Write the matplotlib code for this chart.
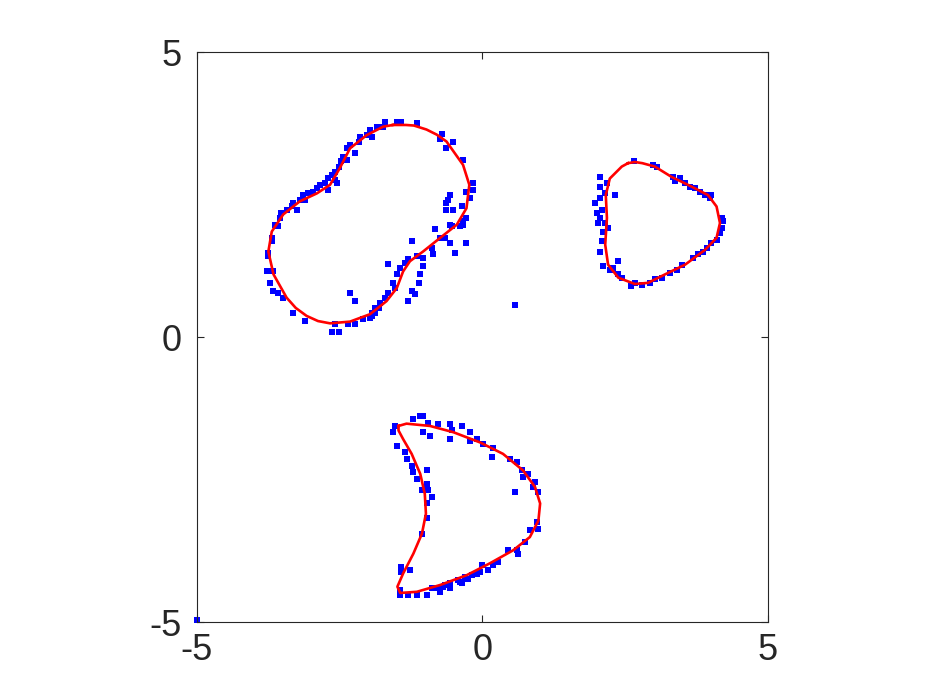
import matplotlib.pyplot as plt
import numpy as np

# --------------------------------------------------------------------------------
# red boundary curves (x, y)

blob_x = [-1.57, -1.34, -1.20, -0.98, -0.80, -0.63, -0.34, -0.23, -0.28, -0.45,
          -0.74, -1.04, -1.27, -1.39, -1.50, -1.68, -1.97, -2.32, -2.67, -2.88,
          -3.08, -3.27, -3.43, -3.66, -3.75, -3.69, -3.49, -3.20, -2.90, -2.67,
          -2.50, -2.32, -2.03, -1.74]
blob_y = [3.72, 3.72, 3.71, 3.64, 3.55, 3.43, 3.02, 2.67, 2.26, 1.97,
          1.74, 1.50, 1.33, 1.15, 0.86, 0.63, 0.40, 0.27, 0.24, 0.28,
          0.37, 0.51, 0.69, 1.10, 1.50, 1.85, 2.15, 2.38, 2.52, 2.67,
          2.96, 3.31, 3.54, 3.69]

tri_x = [2.55, 2.67, 2.80, 3.02, 3.31, 3.66, 3.95, 4.10, 4.16, 4.10, 3.90,
         3.55, 3.20, 2.90, 2.67, 2.38, 2.20, 2.15, 2.18, 2.16, 2.23, 2.44]
tri_y = [3.05, 3.07, 3.05, 2.99, 2.81, 2.64, 2.49, 2.29, 2.00, 1.74, 1.53,
         1.27, 1.10, 0.95, 0.93, 1.04, 1.27, 1.62, 2.09, 2.49, 2.78, 2.99]

moon_x = [-1.47, -1.33, -0.92, -0.51, -0.04, 0.36, 0.71, 0.92, 1.01, 0.98,
          0.83, 0.54, 0.13, -0.28, -0.74, -1.15, -1.44, -1.49, -1.39, -1.21,
          -1.06, -0.99, -1.01, -1.09, -1.24, -1.39, -1.47]
moon_y = [-1.56, -1.52, -1.56, -1.67, -1.85, -2.05, -2.34, -2.63, -2.92, -3.22,
          -3.51, -3.74, -3.97, -4.18, -4.35, -4.47, -4.49, -4.38, -4.15, -3.80,
          -3.45, -3.10, -2.75, -2.40, -2.05, -1.79, -1.64]

# --------------------------------------------------------------------------------
# blue sample points

pts_x = [
    # upper-left blob
    -1.85, -1.97, -2.03, -2.15, -2.17, -2.32, -2.38, -2.23, -2.44, -2.47, -2.38,
    -2.52, -2.58, -2.64, -2.70, -2.58, -2.55, -2.76, -2.85, -2.90, -2.70, -2.96,
    -3.05, -3.14, -3.11, -3.20, -3.31, -3.34, -3.25, -3.43, -3.52, -3.55, -3.63,
    -3.58, -1.74, -1.71, -1.50, -1.42, -1.15, -1.94, -0.71, -0.74, -0.51, -0.63,
    -0.34, -0.16, -0.16, -0.28, -0.57, -0.60, -0.63, -0.22, -0.36, -0.63, -0.51,
    -0.28, -0.34, -0.54, -0.83, -0.39, -3.69, -3.69, -3.75, -3.75, -3.78, -3.66,
    -3.72, -3.66, -3.58, -3.49, -3.31, -3.11, -2.32, -2.23, -2.64, -2.52, -2.58,
    -2.35, -2.23, -2.09, -1.97, -1.88, -1.82, -0.57, -0.34, -0.74, -0.65, -0.57,
    -0.28, -1.24, -0.89, -0.86, -0.48, -1.04, -1.15, -1.30, -1.36, -1.04, -1.65,
    -1.44, -1.50, -1.09, -1.12, -1.56, -1.53, -1.24, -1.18, -1.65, -1.71, -1.30,
    -1.80, -1.88, -1.94, -1.94,
    # right triangle
    2.66, 2.99, 3.05, 3.34, 3.37, 3.46, 3.55, 3.63, 3.72, 3.81, 3.90, 3.98, 4.01,
    4.19, 4.22, 4.19, 4.16, 4.10, 4.01, 3.93, 3.87, 3.78, 3.69, 3.49, 3.40, 3.28,
    3.14, 3.02, 2.93, 2.79, 2.67, 2.61, 2.44, 2.38, 2.29, 2.38, 2.23, 2.12, 2.06,
    2.09, 2.12, 2.03, 2.15, 2.20, 2.06, 2.00, 2.09, 1.97, 2.06, 2.15, 2.06, 2.06,
    2.18, 2.32,
    # lower crescent
    -1.09, -1.04, -1.21, -0.95, -0.77, -0.57, -0.36, -0.54, -0.22, -1.04, -0.92,
    -0.57, -0.10, -1.53, -1.56, -1.50, -1.36, -1.33, -1.24, -1.21, -1.15, -0.98,
    -0.98, -0.95, -0.89, -1.06, -0.22, 0.01, 0.19, 0.16, 0.48, 0.60, 0.69, 0.80,
    0.71, 0.92, 0.89, 0.98, 0.57, 0.95, 0.98, 0.83, 0.74, 0.60, 0.45, 0.63, 0.28,
    0.19, -0.01, 0.10, -0.04, -0.19, -0.31, -0.42, -0.36, -0.57, -0.69, -0.74,
    -0.98, -0.98, -1.06, -1.42, -1.27, -1.42, -1.44, -1.44, -1.30, -1.15, -0.98,
    -0.89, -0.77, -0.66, -0.57, -0.39, -0.25, -0.10,
    # strays
    0.57, -5.0,
]
pts_y = [
    # upper-left blob
    3.69, 3.63, 3.54, 3.51, 3.43, 3.37, 3.31, 3.22, 3.16, 3.08, 3.11,
    2.99, 2.90, 2.84, 2.79, 2.76, 2.70, 2.70, 2.67, 2.61, 2.58, 2.55,
    2.52, 2.49, 2.41, 2.41, 2.35, 2.29, 2.23, 2.23, 2.17, 2.09, 1.97,
    1.94, 3.69, 3.78, 3.78, 3.78, 3.75, 3.51, 3.57, 3.48, 3.43, 3.31,
    3.11, 2.70, 2.58, 2.55, 2.49, 2.41, 2.35, 2.44, 2.29, 2.23, 2.23,
    2.09, 2.03, 1.94, 1.90, 1.94, 1.74, 1.68, 1.47, 1.42, 1.15, 1.15,
    0.95, 0.80, 0.78, 0.69, 0.42, 0.28, 0.77, 0.63, 0.08, 0.08, 0.22,
    0.22, 0.22, 0.31, 0.34, 0.42, 0.51, 1.97, 1.97, 1.74, 1.74, 1.65,
    1.65, 1.69, 1.56, 1.45, 1.47, 1.39, 1.42, 1.36, 1.30, 1.24, 1.28,
    1.21, 1.10, 1.10, 0.95, 0.95, 0.86, 0.80, 0.75, 0.77, 0.69, 0.63,
    0.60, 0.51, 0.42, 0.37,
    # right triangle
    3.09, 3.02, 2.99, 2.81, 2.73, 2.79, 2.70, 2.64, 2.61, 2.55, 2.49, 2.44, 2.49,
    2.09, 2.03, 1.91, 1.82, 1.71, 1.65, 1.56, 1.50, 1.45, 1.39, 1.27, 1.18, 1.12,
    1.04, 1.01, 0.95, 0.92, 0.95, 0.89, 1.04, 1.10, 1.21, 1.33, 1.18, 1.24, 1.50,
    1.68, 1.85, 2.00, 2.00, 1.91, 2.09, 2.17, 2.23, 2.35, 2.44, 2.52, 2.64, 2.81,
    2.70, 2.49,
    # lower crescent
    -1.38, -1.39, -1.44, -1.50, -1.53, -1.53, -1.56, -1.64, -1.67, -1.67, -1.73,
    -1.79, -1.79, -1.56, -1.67, -1.91, -2.02, -2.14, -2.26, -2.37, -2.49, -2.34,
    -2.58, -2.69, -2.81, -2.69, -1.82, -1.88, -1.94, -2.11, -2.14, -2.20, -2.34, -2.40,
    -2.46, -2.55, -2.63, -2.72, -2.72, -3.25, -3.36, -3.39, -3.60, -3.74, -3.74, -3.80, -3.95,
    -4.00, -4.00, -4.09, -4.12, -4.18, -4.21, -4.27, -4.32, -4.32, -4.38, -4.47,
    -2.92, -3.18, -3.45, -4.03, -4.09, -4.12, -4.44, -4.53, -4.53, -4.53, -4.53,
    -4.41, -4.41, -4.35, -4.41, -4.30, -4.24, -4.15,
    # strays
    0.56, -4.97,
]

ticks = [-5, 0, 5]

# --------------------------------------------------------------------------------

plt.rcParams['font.family'] = ['Liberation Sans', 'DejaVu Sans']

fig = plt.figure(figsize=(9.34, 7.0), dpi=100)
ax = fig.add_axes([0.2109, 0.1114, 0.6113, 0.8143])

ax.plot(pts_x, pts_y, 's', color=(0, 0, 1), markersize=4.6, markeredgewidth=0,
        clip_on=False)

for cx, cy in [(blob_x, blob_y), (tri_x, tri_y), (moon_x, moon_y)]:
    ax.plot(np.append(cx, cx[0]), np.append(cy, cy[0]), '-', color=(1, 0, 0),
            linewidth=1.9, solid_joinstyle='round')

ax.set_xlim(-5, 5)
ax.set_ylim(-5, 5)
ax.set_xticks(ticks)
ax.set_yticks(ticks)
ax.set_xticklabels([str(t) for t in ticks])
ax.set_yticklabels([str(t) for t in ticks])

ax.tick_params(direction='in', length=5, width=0.8, colors=(0.15, 0.15, 0.15),
               labelsize=26, top=True, right=True)
ax.tick_params(axis='x', pad=8)
ax.tick_params(axis='y', pad=11)
for s in ax.spines.values():
    s.set_color((0.15, 0.15, 0.15))
    s.set_linewidth(0.8)

fig.savefig('out.png', dpi=100)
